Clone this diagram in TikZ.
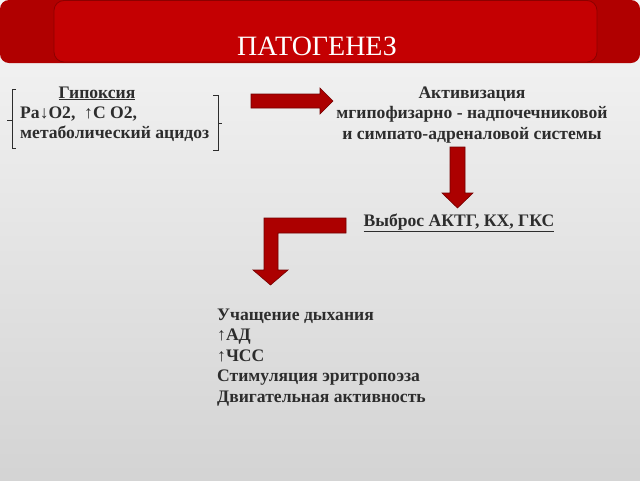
\documentclass[tikz,border=0pt]{standalone}
\usepackage{fontspec}
\setmainfont{Liberation Serif}
\usepackage{tikz}
\usetikzlibrary{calc}
\usetikzlibrary{backgrounds}
\usetikzlibrary{positioning}
\definecolor{hdrdark}{RGB}{176,0,0}
\definecolor{hdrred}{RGB}{196,0,2}
\definecolor{hdredge}{RGB}{140,0,0}
\definecolor{arrred}{RGB}{172,0,0}
\definecolor{arredge}{RGB}{115,0,0}
\definecolor{txtgray}{RGB}{45,45,45}
\tikzset{txt/.style={font=\bfseries\fontsize{17.6}{20.5}\selectfont,text=txtgray,inner sep=0pt}}
\tikzset{ttl/.style={font=\fontsize{28}{30}\selectfont,text=white,inner sep=0pt}}
\tikzset{redarr/.style={fill=arrred,draw=arredge,line width=0.6pt,line join=miter}}
\tikzset{brk/.style={draw=txtgray,line width=0.8pt}}

\begin{document}
\begin{tikzpicture}[x=1pt,y=-1pt]
\useasboundingbox (0,0) rectangle (640,480);
\shade[top color=black!4, middle color=black!8, bottom color=black!17] (0,0) rectangle (640,480);

% header
\fill[hdrdark, rounded corners=9pt] (0,0) rectangle (640,63);
\draw[hdredge, fill=hdrred, rounded corners=10pt, line width=0.8pt] (54,0.5) rectangle (597,62);
\node[ttl, anchor=base] (title) at (317,55) {ПАТОГЕНЕЗ};

% left block (base = last line)
\node[txt, anchor=base] (hyp) at (97,98) {\underline{Гипоксия}};
\node[txt, anchor=base west, align=left] (gas) at (20,138.5) {Pa↓O2,\ \ ↑C O2,\\метаболический ацидоз};
\draw[brk] (16,89) -- (12,89) -- (12,148) -- (16,148);
\draw[brk] (12,120) -- (7,120);
\draw[brk] (213,95) -- (218,95) -- (218,150) -- (213,150);
\draw[brk] (218,123) -- (222,123);

% right block
\node[txt, anchor=base, align=center] (act) at (472,139) {Активизация\\мгипофизарно - надпочечниковой\\и симпато-адреналовой системы};
\node[txt, anchor=base] (ejec) at (459,226) {\underline{Выброс АКТГ, КХ, ГКС}};

% result list
\node[txt, anchor=base west, align=left] (resp) at (217,402) {Учащение дыхания\\↑АД\\↑ЧСС\\Стимуляция эритропоэза\\Двигательная активность};

% arrows
\draw[redarr] (251,94) -- (320,94) -- (320,88) -- (333,101) -- (320,114) -- (320,108) -- (251,108) -- cycle;
\draw[redarr] (450,147) -- (465,147) -- (465,193) -- (473,193) -- (457.5,208) -- (442,193) -- (450,193) -- cycle;
\draw[redarr] (346,218) -- (264,218) -- (264,270) -- (253,270) -- (270.5,285) -- (288,270) -- (278,270) -- (278,233) -- (346,233) -- cycle;
\end{tikzpicture}
\end{document}
